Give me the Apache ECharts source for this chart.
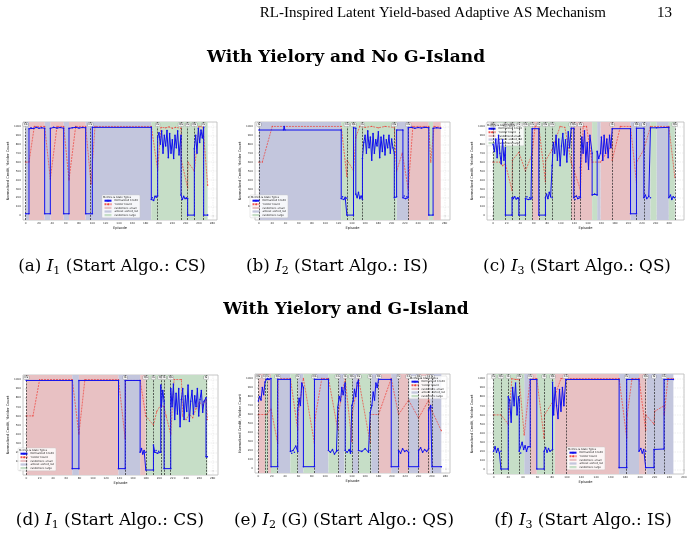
<!DOCTYPE html>
<html><head><meta charset="utf-8">
<script src="https://cdn.jsdelivr.net/npm/echarts@6/dist/echarts.min.js"></script>
<style>html,body{margin:0;padding:0;background:#fff}#c{width:696px;height:540px}</style>
</head><body><div id="c"></div>
<script>
// ---------------- shared ----------------
const bandTypes = ['randomize_small', 'almost_sorted_list', 'randomize_large'];
const seriesNames = ['Normalized Credit', 'Yielder Count'];
const legendTitle = 'Metrics & State Types';
const yTicks = [0, 100, 200, 300, 400, 500, 600, 700, 800, 900, 1000];
const xTicks280 = [0, 20, 40, 60, 80, 100, 120, 140, 160, 180, 200, 220, 240, 260, 280];
const xTicks260 = [0, 20, 40, 60, 80, 100, 120, 140, 160, 180, 200, 220, 240, 260];
const yAxisTitle = 'Normalized Credit, Yielder Count';
const xAxisTitle = 'Episode';
const headerText = 'RL-Inspired Latent Yield-based Adaptive AS Mechanism';
const pageNumber = '13';
const sectionTitles = ['With Yielory and No G-Island', 'With Yielory and G-Island'];
const captions = [
  ['(a) ', 'I', '1', ' (Start Algo.: CS)'],
  ['(b) ', 'I', '2', ' (Start Algo.: IS)'],
  ['(c) ', 'I', '3', ' (Start Algo.: QS)'],
  ['(d) ', 'I', '1', ' (Start Algo.: CS)'],
  ['(e) ', 'I', '2', ' (G) (Start Algo.: QS)'],
  ['(f) ', 'I', '3', ' (Start Algo.: IS)']
];

// ---------------- (a) ----------------
const aBands = [[0,5,1],[5,28.5,0],[28.5,37,1],[37,57,0],[57,65,1],[65,90,0],[90,188.5,1],[188.5,273,2]];
const aSwitch = [0, 97, 198, 233, 243, 253, 267];
const aSwitchLbl = ['CS', 'CS', 'IS', 'QS', 'IS', 'QS', 'IS'];
const aCredit = [[0,20],[5,20],[5,975],[8,985],[12,978],[16,990],[20,980],[24,985],[28.5,980],[28.5,20],[37,20],[37,978],[42,990],[47,982],[52,988],[57,980],[57,20],[65,20],[65,978],[70,985],[75,990],[80,982],[85,988],[90,985],[90,20],[100,20],[100,990],[188.5,990],[188.5,180],[190,200],[192,170],[194,215],[196,205],[198,220],[198,880],[200,930],[202,800],[204,950],[206,700],[208,900],[210,780],[212,955],[214,650],[216,920],[218,700],[220,850],[222,640],[224,900],[226,760],[228,950],[230,680],[233,900],[233,230],[235,180],[237,215],[239,190],[241,200],[243,190],[243,5],[253,5],[253,750],[255,900],[257,700],[259,980],[261,820],[263,960],[265,870],[267,990],[267,5],[273,5]];
const aYield = [[0,600],[5,600],[13,1000],[28.5,1000],[37,410],[47,1000],[57,1000],[65,400],[75,1000],[90,1000],[98,355],[104,1000],[188.5,1000],[198,510],[203,990],[210,985],[215,995],[220,980],[225,990],[233,980],[233.5,620],[243,310],[243.5,600],[253,500],[260,1000],[266,995],[273,340]];

// ---------------- (b) ----------------
const bBands = [[0,124,1],[124,207.5,2],[207.5,225,1],[225,256,0],[256,262.5,2],[262.5,274,0]];
const bSwitch = [0, 132.5, 142.5, 156, 204, 225];
const bSwitchLbl = ['IS', 'CS', 'QS', 'IS', 'QS', 'CS'];
const bCredit = [[0,960],[37,960],[38,1000],[39,960],[124,960],[124,190],[126,210],[128,180],[130,205],[132.5,195],[132.5,5],[142.5,5],[142.5,985],[146,980],[146,240],[148,200],[150,260],[152,190],[154,220],[156,180],[156,640],[158,820],[160,900],[162,700],[164,950],[166,760],[168,880],[170,620],[172,920],[174,700],[176,850],[178,780],[180,940],[182,650],[184,880],[186,720],[188,900],[190,680],[192,850],[194,760],[196,900],[198,700],[200,860],[202,760],[204,700],[204,200],[207.5,210],[207.5,960],[217,960],[217,200],[219,220],[221,190],[223,210],[225,200],[225,985],[230,990],[235,980],[240,988],[245,982],[250,990],[256,985],[256,5],[262.5,5],[262.5,980],[268,985],[274,980]];
const bYield = [[0,600],[5,600],[20,1000],[124,1000],[132.5,440],[133,620],[142.5,505],[146,880],[152,1000],[160,990],[170,1000],[180,985],[190,1000],[204,990],[207.5,500],[216,700],[225,300],[232,1000],[256,1000],[259,600],[264,1000],[274,990]];

// ---------------- (c) ----------------
const cBands = [[0,57.6,2],[57.6,67.5,0],[67.5,115.3,2],[115.3,146.3,0],[146.3,153.7,2],[153.7,158.6,1],[158.6,203,0],[203,232.5,1],[232.5,241.4,2],[241.4,259.6,1],[259.6,268.5,2]];
const cSwitch = [0, 18.2, 28, 38, 47.8, 57.6, 67.5, 77.3, 87.2, 115.3, 119.2, 129, 175.9, 211.8, 222.7, 268.5];
const cSwitchLbl = ['QS', 'IS', 'QS', 'IS', 'QS', 'CS', 'IS', 'QS', 'CS', 'IS', 'QS', 'CS', 'IS', 'QS', 'IS', 'QS'];
const cCredit = [[0,800],[2,720],[4,860],[6,650],[8,900],[10,700],[12,580],[14,850],[16,620],[18.2,760],[18.2,5],[28,5],[28,200],[30,190],[32,210],[34,185],[36,200],[38,195],[38,5],[47.8,5],[47.8,190],[50,210],[52,180],[54,200],[56,185],[57.6,200],[57.6,975],[67.5,975],[67.5,5],[77.3,5],[77.3,200],[79,240],[81,190],[83,260],[85,210],[87.2,200],[87.2,560],[89,820],[91,700],[93,900],[95,620],[97,860],[99,560],[101,780],[103,920],[105,680],[107,850],[109,600],[111,940],[113,760],[115.3,980],[119.2,980],[119.2,200],[121,180],[123,220],[125,190],[127,210],[129,200],[129,540],[131,880],[133,700],[135,950],[137,600],[139,820],[141,520],[143,900],[146.3,700],[146.3,230],[150,240],[153.7,230],[153.7,720],[156,640],[158.6,700],[160,880],[162,620],[164,900],[166,700],[168,860],[170,650],[172,900],[174,760],[175.9,975],[203,975],[203,20],[211.8,20],[211.8,980],[222.7,980],[222.7,200],[225,230],[227,190],[230,215],[232.5,200],[232.5,985],[241.4,985],[259.6,990],[259.6,200],[262,230],[264,180],[266,210],[268.5,200]];
const cYield = [[0,600],[10,600],[14,560],[18.2,580],[28,280],[28.5,620],[38,710],[47.8,500],[57.6,690],[62,1000],[67.5,1000],[77.3,380],[77.7,620],[87.2,740],[99,1000],[106,990],[115.3,600],[129,290],[133,1000],[138,1000],[146.3,600],[158.6,600],[175.9,800],[176,620],[188,1000],[203,1000],[211.8,370],[212,600],[222.7,740],[232.5,1000],[259.6,1000],[268.5,430]];

// ---------------- (d) ----------------
const dBands = [[0,69,0],[69,79,1],[79,138.5,0],[138.5,171,1],[171,179.5,0],[179.5,272,2]];
const dSwitch = [0, 148.5, 179.5, 191, 202, 207, 217, 270];
const dSwitchLbl = ['CS', 'IS', 'QS', 'IS', 'QS', 'IS', 'QS', 'IS'];
const dCredit = [[0,990],[69,990],[69,20],[79,20],[79,990],[138.5,990],[138.5,20],[148.5,20],[148.5,990],[171,990],[171,200],[173,240],[175,180],[177,220],[179.5,200],[179.5,5],[191,5],[191,280],[193,200],[195,220],[197,190],[199,210],[202,200],[202,940],[203,700],[205,880],[207,760],[207,20],[217,20],[217,900],[219,700],[221,950],[223,560],[225,850],[227,620],[229,900],[231,480],[233,780],[235,900],[237,560],[239,820],[241,650],[243,940],[245,540],[247,760],[249,880],[251,620],[253,820],[255,700],[257,900],[259,600],[261,780],[263,880],[265,640],[267,760],[270,800],[270,150],[272,150]];
const dYield = [[0,600],[10,600],[20,1000],[69,1000],[79,400],[88,1000],[138.5,1000],[148.5,350],[149,990],[171,990],[179.5,600],[191,500],[196,650],[202,720],[207,700],[210,600],[217,400],[222,1000],[233,1000],[235,600],[240,560],[245,620],[250,580],[255,680],[260,750],[265,720],[270,780],[272,560]];

// ---------------- (e) ----------------
const eBands = [[0,10,0],[10,14,2],[14,19,0],[19,29,2],[29,48,1],[48,59,2],[59,67.5,1],[67.5,84,2],[84,105,1],[105,120,2],[120,129,1],[129,141,2],[141,150,1],[150,169,2],[169,180,1],[180,199,0],[199,210,1],[210,225,0],[225,240,1],[240,257.5,0],[257.5,274,1]];
const eSwitch = [0, 10, 14, 29, 59, 84, 119, 130, 140, 150, 167.5, 180, 210, 225, 240, 255, 260];
const eSwitchLbl = ['QS', 'CS', 'IS', 'QS', 'IS', 'QS', 'CS', 'IS', 'QS', 'CS', 'IS', 'QS', 'IS', 'CS', 'QS', 'CS', 'IS'];
const eCredit = [[0,750],[2,800],[4,760],[6,900],[8,820],[10,960],[12,990],[14,1000],[16,990],[19,1000],[19,20],[29,20],[29,990],[48,990],[48,190],[50,170],[52,200],[54,180],[56,250],[59,190],[59,650],[61,780],[63,700],[65,950],[67.5,900],[67.5,20],[84,20],[84,990],[105,990],[105,200],[108,180],[111,210],[114,160],[117,190],[119,200],[119,680],[121,800],[123,750],[125,900],[127,820],[130,950],[130,200],[133,180],[136,210],[138,170],[140,190],[140,700],[142,750],[144,880],[146,800],[148,950],[150,980],[150,200],[155,190],[160,220],[165,180],[167.5,200],[167.5,620],[170,700],[172,850],[174,760],[176,950],[178,900],[180,990],[199,990],[199,20],[210,20],[210,200],[213,170],[216,220],[219,190],[222,200],[225,180],[225,20],[240,20],[240,200],[243,230],[246,180],[249,210],[252,190],[255,220],[255,650],[258,700],[260,680],[260,20],[274,20]];
const eYield = [[0,600],[12,600],[19,660],[29,280],[29.5,1000],[48,1000],[59,430],[59.5,600],[67.5,1000],[84,280],[85,560],[95,1000],[105,1000],[119,430],[119.5,600],[130,1000],[140,300],[140.5,600],[150,1000],[167.5,280],[168,600],[180,600],[199,1000],[210,600],[225,760],[240,560],[255,760],[260,640],[274,420]];

// ---------------- (f) ----------------
const fBands = [[0,41.8,2],[41.8,50,1],[50,59,0],[59,83.6,2],[83.6,171.4,0],[171.4,198.6,1],[198.6,209,0],[209,245.5,1]];
const fSwitch = [0, 10, 20, 35, 50, 69, 80.5, 98.6, 181.8, 207.7, 219, 232.7];
const fSwitchLbl = ['IS', 'QS', 'IS', 'QS', 'CS', 'IS', 'QS', 'CS', 'IS', 'QS', 'IS', 'CS'];
const fCredit = [[0,200],[2,250],[4,190],[6,230],[8,180],[10,200],[10,5],[20,5],[20,800],[22,760],[24,520],[26,900],[28,700],[30,950],[32,600],[34,800],[35,760],[35,200],[37,180],[39,300],[41,220],[43,260],[45,200],[47,250],[50,250],[50,990],[59,990],[59,5],[69,5],[69,200],[71,240],[73,190],[75,230],[77,200],[80.5,220],[80.5,960],[82,600],[84,900],[86,700],[88,560],[90,880],[92,640],[94,900],[96,700],[98.6,990],[171.4,990],[171.4,20],[181.8,20],[181.8,990],[198.6,990],[198.6,200],[201,230],[203,180],[205,220],[207.7,200],[207.7,20],[219,20],[219,220],[232.7,225],[232.7,990],[245.5,990]];
const fYield = [[0,600],[10,600],[20,500],[25,1000],[30,990],[35,990],[41.8,380],[50,1000],[59,1000],[69,340],[69.5,600],[80.5,740],[92,1000],[171.4,1000],[181.8,350],[182.5,600],[189,1000],[198.6,1000],[207.7,430],[208,600],[219,500],[220,640],[232.7,700],[233,600],[238,1000],[245.5,1000]];

// ---------------- layout / style ----------------
const bandColors = ['#e8c1c3', '#c3c6dd', '#c6dec7'];
const creditColor = '#1010ee';
const yieldColor = '#ee3a33';
const FONT = 'DejaVu Sans';
const SERIF = 'DejaVu Serif';

const panels = [
  {credit: aCredit, yld: aYield, bands: aBands, sw: aSwitch, swl: aSwitchLbl, xmin: -4, xmax: 287, xt: xTicks280, grid: {left: 23, top: 122, width: 194, height: 98}, leg: {left: 102, top: 195}},
  {credit: bCredit, yld: bYield, bands: bBands, sw: bSwitch, swl: bSwitchLbl, xmin: -6, xmax: 288, xt: xTicks280, grid: {left: 255, top: 122, width: 195, height: 98}, leg: {left: 250, top: 195}},
  {credit: cCredit, yld: cYield, bands: cBands, sw: cSwitch, swl: cSwitchLbl, xmin: -9, xmax: 282, xt: xTicks260, grid: {left: 487, top: 122, width: 197, height: 98}, leg: {left: 486, top: 123}},
  {credit: dCredit, yld: dYield, bands: dBands, sw: dSwitch, swl: dSwitchLbl, xmin: -5, xmax: 288, xt: xTicks280, grid: {left: 23, top: 375, width: 195, height: 100}, leg: {left: 18, top: 448}},
  {credit: eCredit, yld: eYield, bands: eBands, sw: eSwitch, swl: eSwitchLbl, xmin: -5, xmax: 287, xt: xTicks280, grid: {left: 255, top: 374, width: 195, height: 99}, leg: {left: 409, top: 376}},
  {credit: fCredit, yld: fYield, bands: fBands, sw: fSwitch, swl: fSwitchLbl, xmin: -9, xmax: 260, xt: xTicks260, grid: {left: 487, top: 374, width: 197, height: 100}, leg: {left: 567, top: 447}}
];

const grid = [], xAxis = [], yAxis = [], series = [], legend = [], graphic = [];
const plain = v => String(v);

panels.forEach((p, i) => {
  grid.push(Object.assign({show: true, borderColor: '#b8b8b8', borderWidth: 0.8, backgroundColor: '#fff'}, p.grid));
  xAxis.push({
    type: 'value', gridIndex: i, min: p.xmin, max: p.xmax,
    name: xAxisTitle, nameLocation: 'middle', nameGap: 6,
    nameTextStyle: {fontSize: 3.6, fontFamily: FONT, color: '#222'},
    axisLine: {show: false},
    axisTick: {show: true, length: 1, lineStyle: {color: '#666', width: 0.4}, customValues: p.xt},
    axisLabel: {fontSize: 2.8, fontFamily: FONT, color: '#333', margin: 2, customValues: p.xt, formatter: plain},
    splitLine: {show: true, lineStyle: {color: '#d4d4d4', width: 0.4, type: [1.5, 1]}}
  });
  yAxis.push({
    type: 'value', gridIndex: i, min: -50, max: 1050,
    name: yAxisTitle, nameLocation: 'middle', nameGap: 13, nameRotate: 90,
    nameTextStyle: {fontSize: 3.6, fontFamily: FONT, color: '#222'},
    axisLine: {show: false},
    axisTick: {show: true, length: 1, lineStyle: {color: '#666', width: 0.4}, customValues: yTicks},
    axisLabel: {fontSize: 2.8, fontFamily: FONT, color: '#333', margin: 2, customValues: yTicks, formatter: plain},
    splitLine: {show: true, lineStyle: {color: '#d4d4d4', width: 0.4, type: [1.5, 1]}}
  });
  bandTypes.forEach((bt, k) => {
    series.push({
      name: bt, type: 'line', xAxisIndex: i, yAxisIndex: i, data: [],
      itemStyle: {color: bandColors[k]}, lineStyle: {color: bandColors[k]},
      silent: true, z: 1,
      markArea: {
        silent: true,
        itemStyle: {color: bandColors[k]},
        data: p.bands.filter(b => b[2] === k).map(b => [{xAxis: b[0]}, {xAxis: b[1]}])
      }
    });
  });
  series.push({
    name: '_switch', type: 'line', xAxisIndex: i, yAxisIndex: i, data: [], silent: true, z: 3,
    markLine: {
      silent: true, symbol: 'none', animation: false,
      lineStyle: {color: '#222', type: [2, 1.2], width: 0.7},
      label: {show: true, position: 'end', distance: -4.5, fontSize: 2.6, fontFamily: FONT, color: '#111',
        backgroundColor: '#f2f2f2', borderColor: '#777', borderWidth: 0.3, padding: [0.4, 0.8, 0.2, 0.8], borderRadius: 0.6},
      data: p.sw.map((v, j) => [
        {xAxis: v, yAxis: -50, label: {formatter: p.swl[j]}},
        {xAxis: v, yAxis: 1050}
      ])
    }
  });
  series.push({
    name: seriesNames[1], type: 'line', xAxisIndex: i, yAxisIndex: i, data: p.yld, z: 4,
    symbol: 'circle', symbolSize: 1.3, showSymbol: true,
    itemStyle: {color: yieldColor, opacity: 0.85},
    lineStyle: {color: yieldColor, width: 0.8, type: [2, 1], opacity: 0.85}
  });
  series.push({
    name: seriesNames[0], type: 'line', xAxisIndex: i, yAxisIndex: i, data: p.credit, z: 5,
    symbol: 'circle', symbolSize: 1.6, showSymbol: true,
    itemStyle: {color: creditColor},
    lineStyle: {color: creditColor, width: 1}
  });
  legend.push({
    left: p.leg.left, top: p.leg.top, orient: 'vertical',
    padding: [4.2, 2, 1.2, 1.5], itemGap: 0.6, itemWidth: 7, itemHeight: 2.2,
    borderColor: '#c8c8c8', borderWidth: 0.4, borderRadius: 1, backgroundColor: 'rgba(255,255,255,0.85)',
    textStyle: {fontSize: 2.6, fontFamily: FONT, color: '#222', padding: [0, 0, 0, -2]},
    selectedMode: false,
    data: [
      {name: seriesNames[0]},
      {name: seriesNames[1]},
      {name: bandTypes[0], icon: 'rect'},
      {name: bandTypes[1], icon: 'rect'},
      {name: bandTypes[2], icon: 'rect'}
    ]
  });
  graphic.push({
    type: 'text', x: p.leg.left + 15, y: p.leg.top + 2.3, z: 100,
    style: {text: legendTitle, font: '2.6px "DejaVu Sans"', fill: '#222', textAlign: 'center', textVerticalAlign: 'middle', align: 'center', verticalAlign: 'middle'}
  });
});

// page texts
graphic.push({type: 'text', x: 606, y: 13, style: {text: headerText, font: '15px "Liberation Serif"', fill: '#000', textAlign: 'right', textVerticalAlign: 'middle', align: 'right', verticalAlign: 'middle'}});
graphic.push({type: 'text', x: 672, y: 13, style: {text: pageNumber, font: '15px "Liberation Serif"', fill: '#000', textAlign: 'right', textVerticalAlign: 'middle', align: 'right', verticalAlign: 'middle'}});
const secY = [58, 310];
sectionTitles.forEach((t, i) => graphic.push({type: 'text', x: 346, y: secY[i], style: {text: t, font: 'bold 17px "DejaVu Serif"', fill: '#000', textAlign: 'center', textVerticalAlign: 'middle', align: 'center', verticalAlign: 'middle'}}));
const capX = [112, 337, 577, 110, 344, 583];
const capY = [267, 267, 267, 521, 521, 521];
captions.forEach((c, i) => {
  graphic.push({type: 'text', x: capX[i], y: capY[i], style: {
    text: c[0] + '{i|' + c[1] + '}{s|' + c[2] + '}' + c[3],
    font: '16.8px "DejaVu Serif"', fontSize: 16.8, fontFamily: SERIF, fill: '#000',
    textAlign: 'center', textVerticalAlign: 'middle', align: 'center', verticalAlign: 'middle', lineHeight: 19,
    rich: {
      i: {fontStyle: 'italic', fontSize: 16.8, fontFamily: SERIF, lineHeight: 19, fill: '#000'},
      s: {fontSize: 11, fontFamily: SERIF, lineHeight: 12, verticalAlign: 'bottom', fill: '#000'}
    }
  }});
});

const chart = echarts.init(document.getElementById('c'), null, {renderer: 'canvas'});
chart.setOption({animation: false, backgroundColor: '#fff', grid, xAxis, yAxis, series, legend, graphic});
</script></body></html>
